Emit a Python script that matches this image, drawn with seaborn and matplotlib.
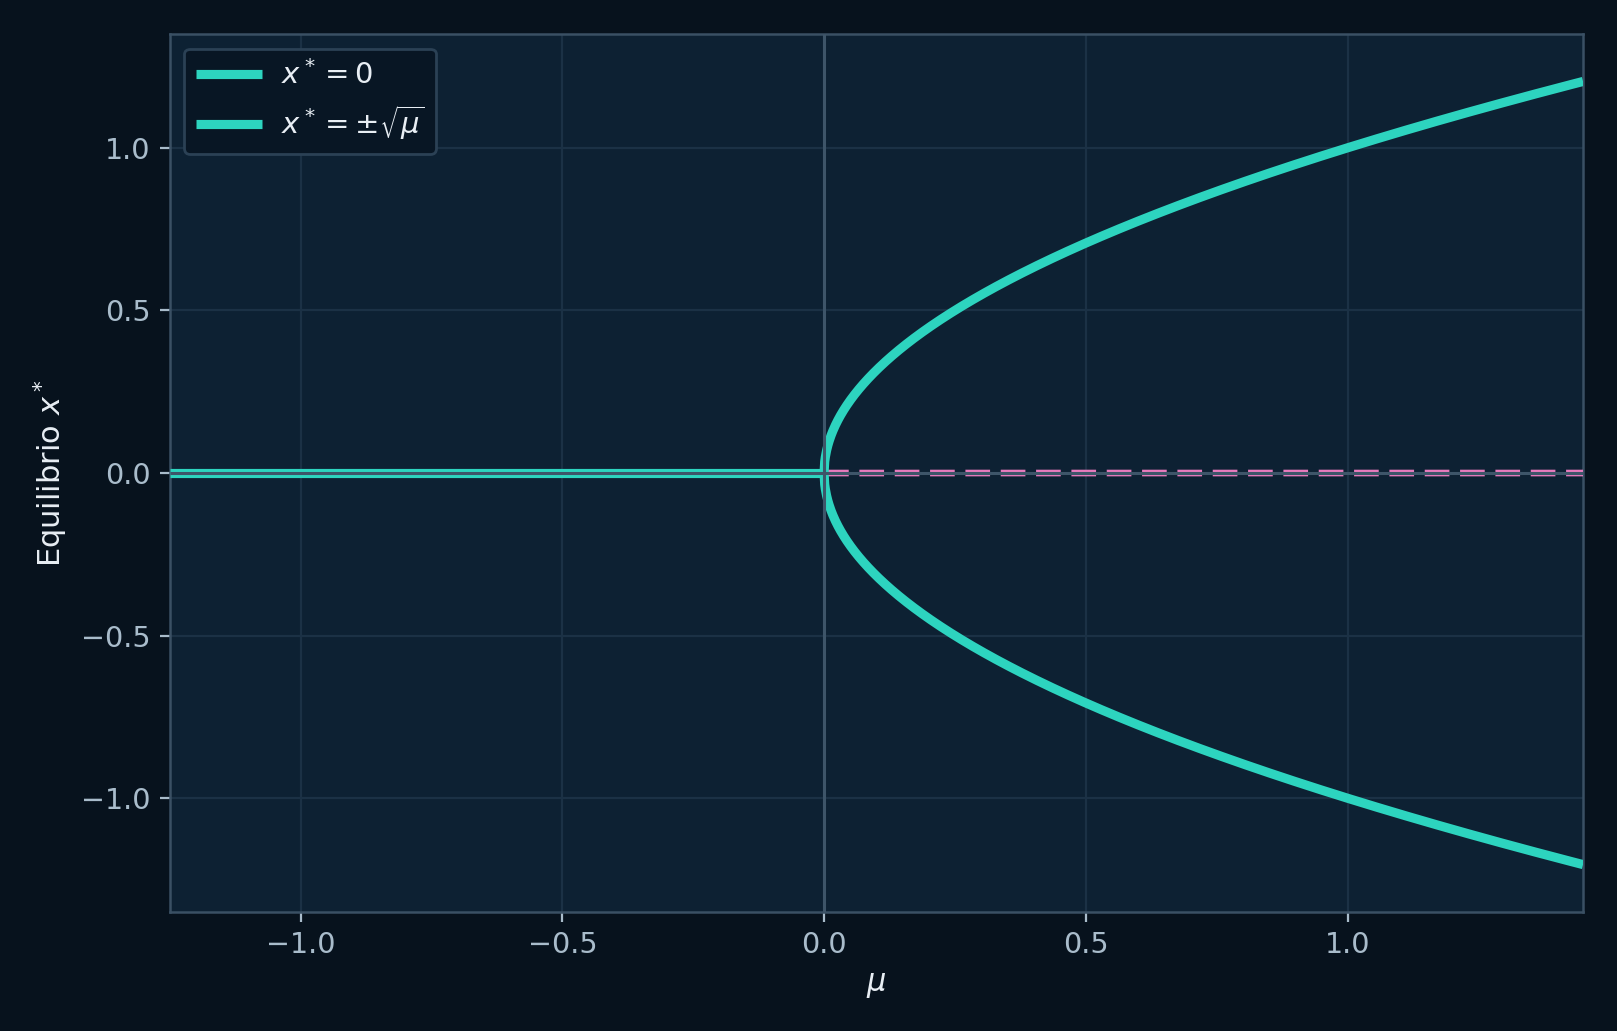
import numpy as np
import pandas as pd
import matplotlib
matplotlib.use("Agg")
import matplotlib.pyplot as plt
import seaborn as sns

# ---- chart values ----
mu_range = [-1.25, 1.45]          # x-axis span of the diagram
y_range = [-1.35, 1.35]
x_ticks = [-1.0, -0.5, 0.0, 0.5, 1.0]
y_ticks = [-1.0, -0.5, 0.0, 0.5, 1.0]
bifurcation_point = 0.0
legend_labels = [r"$x^*=0$", r"$x^*=\pm\sqrt{\mu}$"]
x_label = r"$\mu$"
y_label = r"Equilibrio $x^*$"

# colours
BG_FIG = "#07121d"
BG_AX = "#0d2133"
TEAL = "#2dd4bf"
PINK = "#e77bbd"
AXLINE = "#3e5569"
GRID = "#1b3145"
SPINE = "#3a5064"
TICK = "#a9bccb"
TEXT = "#e8eef4"

sns.set_theme(style="darkgrid")
plt.rcParams.update({
    "font.family": ["DejaVu Sans"],
    "figure.facecolor": BG_FIG,
    "axes.facecolor": BG_AX,
    "axes.edgecolor": SPINE,
    "grid.color": GRID,
    "xtick.color": TICK,
    "ytick.color": TICK,
    "axes.labelcolor": TEXT,
    "lines.solid_capstyle": "butt",
})

# curves of the normal form  dx/dt = mu x - x^3
mu_stable = np.linspace(mu_range[0], bifurcation_point, 400)
mu_branch = np.linspace(bifurcation_point, mu_range[1], 1200)

stable = pd.DataFrame({"mu": mu_stable, "x": np.zeros_like(mu_stable)})
unstable = pd.DataFrame({"mu": mu_branch, "x": np.zeros_like(mu_branch)})
upper = pd.DataFrame({"mu": mu_branch, "x": np.sqrt(mu_branch - bifurcation_point)})
lower = pd.DataFrame({"mu": mu_branch, "x": -np.sqrt(mu_branch - bifurcation_point)})

fig = plt.figure(figsize=(8.085, 5.155), dpi=200)
ax = fig.add_axes([0.105, 0.1154, 0.874, 0.8516])

LW = 3.3
sns.lineplot(data=stable, x="mu", y="x", ax=ax, color=TEAL, lw=LW,
             label=legend_labels[0], sort=False, estimator=None, zorder=3)
sns.lineplot(data=unstable, x="mu", y="x", ax=ax, color=PINK, lw=2.4,
             linestyle="--", sort=False, estimator=None, zorder=3)
sns.lineplot(data=upper, x="mu", y="x", ax=ax, color=TEAL, lw=LW,
             label=legend_labels[1], sort=False, estimator=None, zorder=3)
sns.lineplot(data=lower, x="mu", y="x", ax=ax, color=TEAL, lw=LW,
             sort=False, estimator=None, zorder=3)
for ln in ax.get_lines():
    ln.set_solid_capstyle("butt")

ax.axhline(0, color=AXLINE, lw=1.1, zorder=4)
ax.axvline(bifurcation_point, color=AXLINE, lw=1.1, zorder=4)

ax.set_xlim(*mu_range)
ax.set_ylim(*y_range)
ax.set_xticks(x_ticks)
ax.set_yticks(y_ticks)
ax.grid(True, color=GRID, lw=0.8)
ax.tick_params(axis="both", which="major", labelsize=10.3, colors=TICK,
               length=3.5, width=0.8, direction="out", bottom=True, left=True)
for s in ax.spines.values():
    s.set_visible(True)
    s.set_color(SPINE)
    s.set_linewidth(0.9)

ax.set_xlabel(x_label, fontsize=11, color=TEXT)
ax.set_ylabel(y_label, fontsize=11, color=TEXT)

leg = ax.legend(loc="upper left", fontsize=10.5, frameon=True,
                facecolor="#081624", edgecolor="#2b4155", framealpha=1.0,
                handlelength=2.25, handletextpad=0.65, borderpad=0.4,
                labelspacing=0.45)
leg.get_frame().set_linewidth(1.0)
for ln in leg.get_lines():
    ln.set_solid_capstyle("butt")
for t in leg.get_texts():
    t.set_color(TEXT)

fig.savefig("out.png", dpi=200, facecolor=BG_FIG)
